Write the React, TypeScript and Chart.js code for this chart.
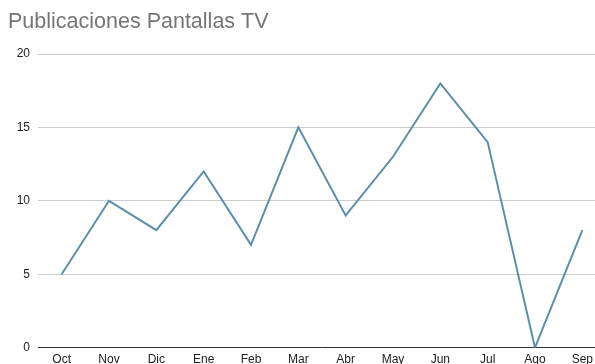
import React, { useEffect, useRef } from "react";
import { Chart, registerables } from "chart.js";

Chart.register(...registerables);

const categories = ["Oct", "Nov", "Dic", "Ene", "Feb", "Mar", "Abr", "May", "Jun", "Jul", "Ago", "Sep"];
const publicaciones = [5, 10, 8, 12, 7, 15, 9, 13, 18, 14, 0, 8];
const yTicks = [0, 5, 10, 15, 20];
const titleText = "Publicaciones Pantallas TV";

const FONT = "'Liberation Sans', Arial, Helvetica, sans-serif";

export default function App() {
  const ref = useRef<HTMLCanvasElement | null>(null);

  useEffect(() => {
    const canvas = ref.current;
    if (!canvas) return;
    const chart = new Chart(canvas, {
      type: "line",
      data: {
        labels: categories,
        datasets: [
          {
            label: "Publicaciones",
            data: publicaciones,
            borderColor: "#5a8fab",
            backgroundColor: "#5a8fab",
            borderWidth: 2,
            pointRadius: 0,
            tension: 0,
            fill: false,
          },
        ],
      },
      options: {
        responsive: false,
        animation: false,
        layout: { padding: { left: 8, right: 0, top: 0, bottom: 0 } },
        plugins: {
          legend: { display: false },
          tooltip: { enabled: false },
          title: {
            display: true,
            text: titleText,
            align: "start",
            color: "#757575",
            font: { family: FONT, size: 21.5, weight: "normal", lineHeight: 1.2 },
            padding: { top: 9, bottom: 19.2 },
          },
        },
        scales: {
          x: {
            offset: true,
            grid: { display: false, drawTicks: false },
            border: { display: true, color: "#333333", width: 1 },
            ticks: {
              color: "#222222",
              font: { family: FONT, size: 12 },
              padding: 5,
              maxRotation: 0,
              autoSkip: false,
            },
          },
          y: {
            min: 0,
            max: 20,
            afterBuildTicks: (scale: any) => {
              scale.ticks = yTicks.map((v) => ({ value: v }));
            },
            afterFit: (scale: any) => {
              scale.width = 30;
            },
            grid: { color: "#cccccc", drawTicks: false },
            border: { display: false },
            ticks: {
              color: "#222222",
              font: { family: FONT, size: 12 },
              padding: 8,
            },
          },
        },
      },
    });
    return () => chart.destroy();
  }, []);

  return (
    <div style={{ position: "fixed", left: 0, top: 0, width: 606, height: 372, background: "#fff" }}>
      <canvas ref={ref} width={606} height={372} style={{ width: 606, height: 372 }} />
    </div>
  );
}
